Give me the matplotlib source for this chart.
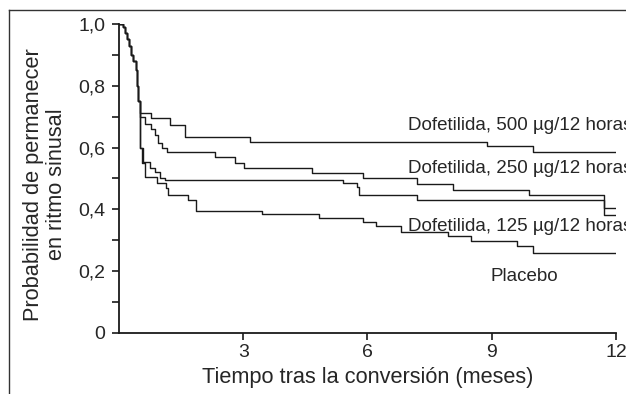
import matplotlib
matplotlib.use("Agg")
import matplotlib.pyplot as plt
from matplotlib.lines import Line2D
from matplotlib.ticker import MultipleLocator, FixedLocator

plt.rcParams['font.family'] = ['Liberation Sans', 'DejaVu Sans']

# =========================
# DATA (Kaplan-Meier steps)
# =========================
t_500 = [0, 0.1, 0.15, 0.2, 0.25, 0.3, 0.35, 0.4, 0.44, 0.47, 0.5, 0.78, 1.23, 1.6, 3.17, 8.88, 10.0, 12.0]
v_500 = [1.0, 0.99, 0.97, 0.95, 0.93, 0.9, 0.88, 0.85, 0.8, 0.75, 0.711, 0.695, 0.673, 0.635, 0.617, 0.605, 0.585, 0.585]

t_250 = [0, 0.1, 0.15, 0.2, 0.25, 0.3, 0.35, 0.4, 0.44, 0.47, 0.5, 0.63, 0.78, 0.87, 0.95, 1.05, 1.15,
         2.33, 2.81, 3.03, 4.67, 5.9, 7.2, 8.06, 9.9, 11.7, 12.0]
v_250 = [1.0, 0.99, 0.97, 0.95, 0.93, 0.9, 0.88, 0.85, 0.8, 0.75, 0.7, 0.675, 0.66, 0.64, 0.615, 0.6, 0.587,
         0.571, 0.55, 0.533, 0.517, 0.503, 0.482, 0.463, 0.445, 0.405, 0.405]

t_125 = [0, 0.1, 0.15, 0.2, 0.25, 0.3, 0.35, 0.4, 0.44, 0.47, 0.5, 0.58, 0.75, 0.87, 1.0, 1.1,
         5.4, 5.75, 5.8, 7.2, 11.7, 12.0]
v_125 = [1.0, 0.99, 0.97, 0.95, 0.93, 0.9, 0.88, 0.85, 0.8, 0.75, 0.6, 0.554, 0.535, 0.522, 0.5, 0.496,
         0.484, 0.471, 0.447, 0.43, 0.382, 0.382]

t_plac = [0, 0.1, 0.15, 0.2, 0.25, 0.3, 0.35, 0.4, 0.44, 0.47, 0.5, 0.55, 0.63, 0.92, 1.14, 1.19, 1.67, 1.87,
          3.45, 4.83, 5.9, 6.2, 6.8, 7.94, 8.5, 9.6, 10.0, 12.0]
v_plac = [1.0, 0.99, 0.97, 0.95, 0.93, 0.9, 0.88, 0.85, 0.8, 0.75, 0.6, 0.55, 0.504, 0.484, 0.469, 0.447, 0.43, 0.396,
          0.385, 0.371, 0.36, 0.346, 0.327, 0.313, 0.296, 0.283, 0.26, 0.26]

labels = ["Dofetilida, 500 µg/12 horas", "Dofetilida, 250 µg/12 horas",
          "Dofetilida, 125 µg/12 horas", "Placebo"]
label_pos = [(6.99, 0.657), (6.99, 0.517), (6.99, 0.331), (9.78, 0.169)]

y_ticks = [0, 0.2, 0.4, 0.6, 0.8, 1.0]
y_ticklabels = ["0", "0,2", "0,4", "0,6", "0,8", "1,0"]
x_ticks = [3, 6, 9, 12]

# =========================
# CHART
# =========================
ink = "#1a1a1a"
txt_col = "#262626"
fig = plt.figure(figsize=(6.26, 3.94), dpi=100)
ax = fig.add_axes([0.19, 0.155, 0.794, 0.784])

for t, v in [(t_500, v_500), (t_250, v_250), (t_125, v_125), (t_plac, v_plac)]:
    ax.step(t, v, where="post", color=ink, linewidth=1.0)

for txt, (x, y) in zip(labels, label_pos):
    ax.text(x, y, txt, fontsize=13.5, color=txt_col, ha="left" if txt != "Placebo" else "center",
            va="baseline", clip_on=False)

ax.set_xlim(0, 12)
ax.set_ylim(0, 1.0)
ax.xaxis.set_major_locator(FixedLocator(x_ticks))
ax.set_yticks(y_ticks)
ax.set_yticklabels(y_ticklabels)
ax.yaxis.set_minor_locator(MultipleLocator(0.1))

ax.spines["top"].set_visible(False)
ax.spines["right"].set_visible(False)
for s in ["left", "bottom"]:
    ax.spines[s].set_linewidth(1.3)
    ax.spines[s].set_color(ink)

ax.tick_params(axis="both", which="both", direction="out", color=ink, width=1.2,
               labelsize=14, labelcolor=txt_col)
ax.tick_params(axis="y", which="major", length=5, pad=5)
ax.tick_params(axis="y", which="minor", length=5)
ax.tick_params(axis="x", which="major", length=5, pad=3)

ax.set_xlabel("Tiempo tras la conversión (meses)", fontsize=15.7, color=txt_col)
ax.xaxis.set_label_coords(0.5, -0.11)
ax.set_ylabel("Probabilidad de permanecer\nen ritmo sinusal", fontsize=15.7, color=txt_col,
              linespacing=1.1)
ax.yaxis.set_label_coords(-0.105, 0.48)

# outer frame (top and left edges visible)
fig.add_artist(Line2D([0.0144, 1.0], [0.975, 0.975], transform=fig.transFigure, color="#333333", linewidth=1.0))
fig.add_artist(Line2D([0.0144, 0.0144], [0.0, 0.975], transform=fig.transFigure, color="#333333", linewidth=1.0))

fig.savefig("out.png", dpi=100)
